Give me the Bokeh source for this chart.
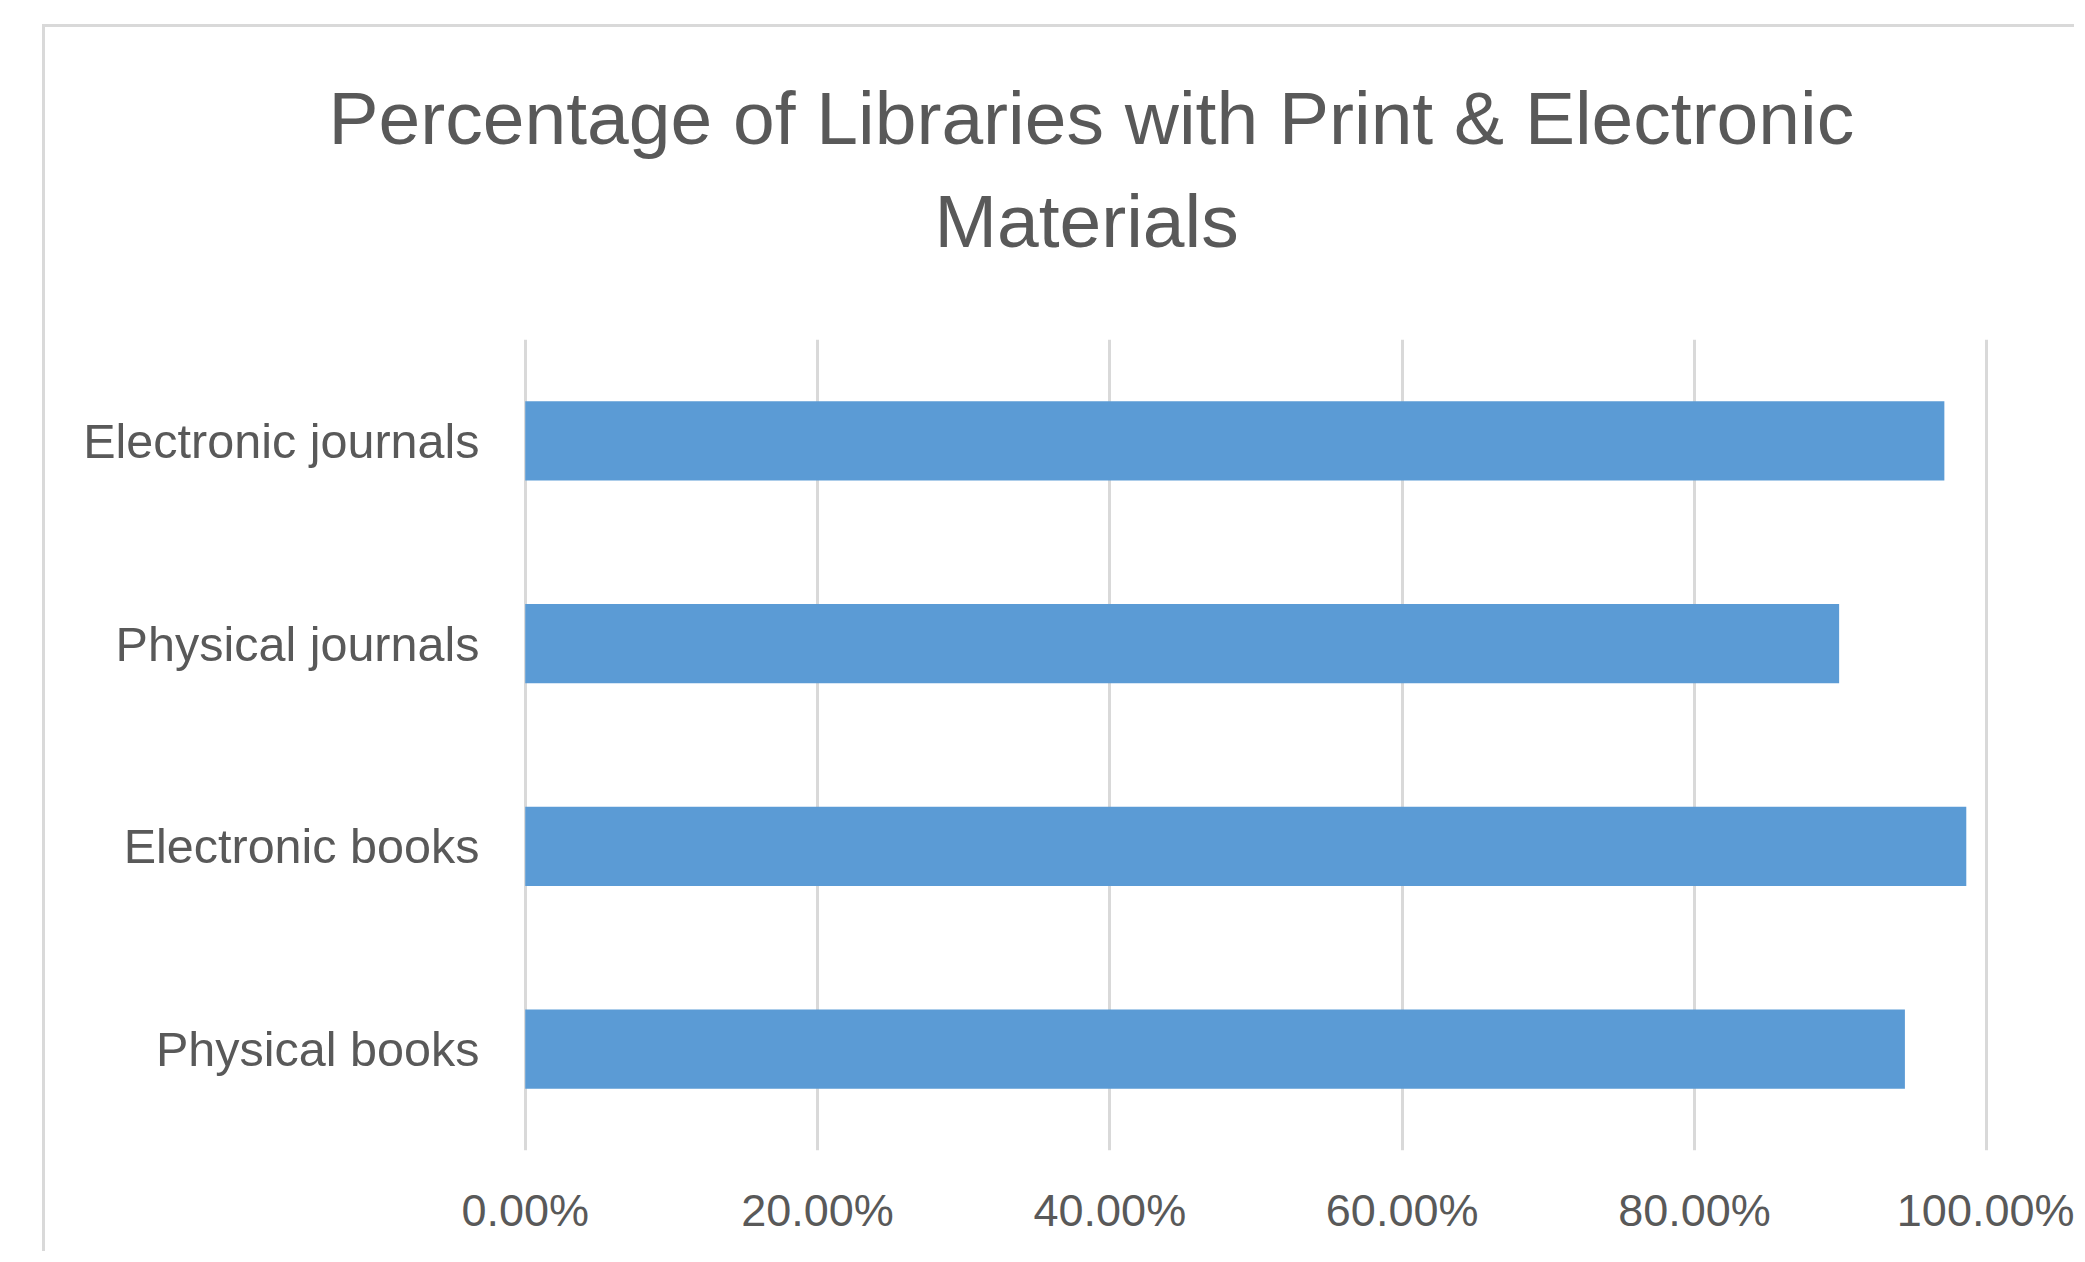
from bokeh.plotting import figure
from bokeh.models import FactorRange, Range1d, FixedTicker, PrintfTickFormatter, Title
from bokeh.embed import file_html
from bokeh.resources import INLINE

# ---- data ----
categories = ["Electronic journals", "Physical journals", "Electronic books", "Physical books"]
values = [97.1, 89.9, 98.6, 94.4]
x_ticks = [0, 20, 40, 60, 80, 100]
title_lines = ["Percentage of Libraries with Print & Electronic", "Materials"]

FONT = "Liberation Sans"
TXT = "#595959"
GRID = "#D9D9D9"
BAR = "#5B9BD5"

order = categories[::-1]  # first factor is drawn at the bottom
vals_order = values[::-1]

W, H = 2032, 1227
p = figure(width=W, height=H,
           y_range=FactorRange(*order),
           x_range=Range1d(-0.12, 100.12),
           output_backend="svg", toolbar_location=None,
           min_border_left=478, min_border_right=89,
           min_border_top=312, min_border_bottom=104)
p.margin = (24, 0, 0, 42)
p.styles = {"border-left": "3px solid #d9d9d9", "border-top": "3px solid #d9d9d9"}

p.hbar(y=order, right=vals_order, left=0, height=0.39, color=BAR, line_color=None)

p.outline_line_color = None
p.background_fill_color = "white"
p.border_fill_color = "white"

p.ygrid.grid_line_color = None
p.xgrid.grid_line_color = GRID
p.xgrid.grid_line_width = 3
p.xaxis.ticker = FixedTicker(ticks=x_ticks)
p.xaxis.formatter = PrintfTickFormatter(format="%.2f%%")

for ax in (p.xaxis, p.yaxis):
    ax.axis_line_color = None
    ax.major_tick_line_color = None
    ax.minor_tick_line_color = None
    ax.major_tick_out = 0
    ax.major_tick_in = 0
    ax.major_label_text_color = TXT
    ax.major_label_text_font = FONT

p.xaxis.major_label_text_font_size = "45px"
p.xaxis.major_label_standoff = 34
p.yaxis.major_label_text_font_size = "48.5px"
p.yaxis.major_label_standoff = 44

# blank spacer between plot area and the title block
p.add_layout(Title(text=" ", text_font=FONT, text_font_size="50px", standoff=14), "above")
# title: second line first (closest to the plot), then first line above it
p.add_layout(Title(text=title_lines[1], align="left", offset=411, text_font=FONT,
                   text_font_size="75px", text_color=TXT, text_font_style="normal",
                   standoff=10), "above")
p.add_layout(Title(text=title_lines[0], align="left", offset=-195, text_font=FONT,
                   text_font_size="75px", text_color=TXT, text_font_style="normal",
                   standoff=24), "above")

open("out.html", "w").write(file_html(p, INLINE))
